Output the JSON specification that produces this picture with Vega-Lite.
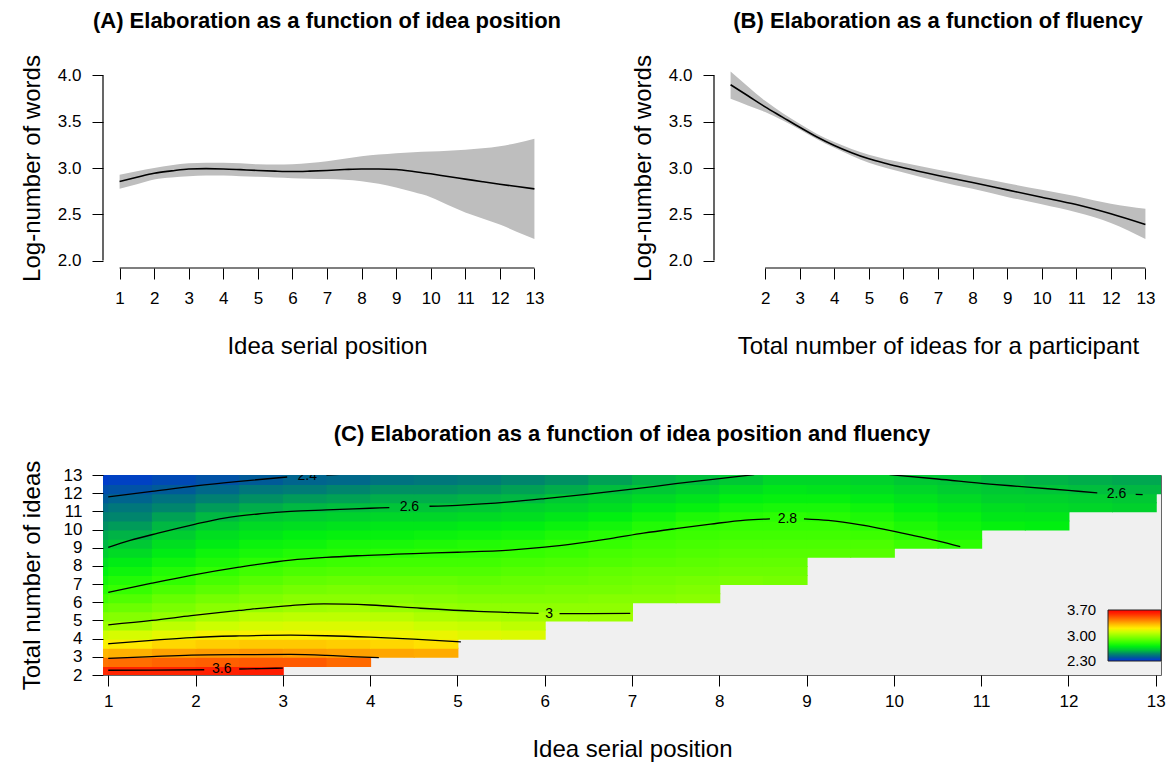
{
  "$schema": "https://vega.github.io/schema/vega-lite/v6.json",
  "background": "white",
  "padding": {"left": 19, "top": 9, "right": 5, "bottom": 5},
  "config": {
    "font": "Liberation Sans",
    "view": {"stroke": null},
    "title": {"fontSize": 22, "fontWeight": "bold", "color": "black", "font": "Liberation Sans", "anchor": "middle", "offset": 22},
    "axis": {"domain": false, "grid": false, "tickColor": "black", "tickSize": 11, "tickWidth": 1, "labelFontSize": 17, "labelColor": "black", "labelFont": "Liberation Sans", "labelPadding": 11, "labelFlush": false, "labelOverlap": false, "titleFontSize": 24, "titleFontWeight": "normal", "titleColor": "black", "titleFont": "Liberation Sans"}
  },
  "datasets": {
    "A": [
      {"x":1,"m":2.854,"lo":2.775,"hi":2.926},{"x":1.5,"m":2.9,"lo":2.825,"hi":2.966},{"x":2,"m":2.944,"lo":2.876,"hi":3.0},{"x":2.5,"m":2.969,"lo":2.897,"hi":3.03},{"x":3,"m":2.99,"lo":2.91,"hi":3.05},{"x":3.5,"m":2.993,"lo":2.92,"hi":3.058},{"x":4,"m":2.99,"lo":2.92,"hi":3.056},{"x":4.5,"m":2.982,"lo":2.912,"hi":3.05},{"x":5,"m":2.973,"lo":2.905,"hi":3.04},{"x":5.5,"m":2.966,"lo":2.897,"hi":3.038},{"x":6,"m":2.962,"lo":2.89,"hi":3.04},{"x":6.5,"m":2.966,"lo":2.885,"hi":3.055},{"x":7,"m":2.973,"lo":2.88,"hi":3.074},{"x":7.5,"m":2.983,"lo":2.872,"hi":3.1},{"x":8,"m":2.99,"lo":2.858,"hi":3.128},{"x":8.5,"m":2.99,"lo":2.83,"hi":3.145},{"x":9,"m":2.984,"lo":2.79,"hi":3.16},{"x":9.5,"m":2.963,"lo":2.74,"hi":3.17},{"x":10,"m":2.937,"lo":2.685,"hi":3.178},{"x":10.5,"m":2.908,"lo":2.6,"hi":3.187},{"x":11,"m":2.88,"lo":2.52,"hi":3.196},{"x":11.5,"m":2.852,"lo":2.455,"hi":3.212},{"x":12,"m":2.825,"lo":2.39,"hi":3.236},{"x":12.5,"m":2.8,"lo":2.31,"hi":3.27},{"x":13,"m":2.775,"lo":2.234,"hi":3.315}
    ],
    "B": [
      {"x":1,"m":3.899,"lo":3.748,"hi":4.043},{"x":1.5,"m":3.78,"lo":3.676,"hi":3.88},{"x":2,"m":3.66,"lo":3.605,"hi":3.725},{"x":2.5,"m":3.55,"lo":3.515,"hi":3.595},{"x":3,"m":3.44,"lo":3.416,"hi":3.478},{"x":3.5,"m":3.335,"lo":3.31,"hi":3.368},{"x":4,"m":3.243,"lo":3.218,"hi":3.28},{"x":4.5,"m":3.165,"lo":3.132,"hi":3.205},{"x":5,"m":3.099,"lo":3.056,"hi":3.142},{"x":5.5,"m":3.048,"lo":3.0,"hi":3.095},{"x":6,"m":3.002,"lo":2.951,"hi":3.056},{"x":7,"m":2.919,"lo":2.858,"hi":2.98},{"x":8,"m":2.843,"lo":2.775,"hi":2.908},{"x":9,"m":2.764,"lo":2.688,"hi":2.836},{"x":10,"m":2.685,"lo":2.609,"hi":2.764},{"x":11,"m":2.605,"lo":2.523,"hi":2.695},{"x":12,"m":2.505,"lo":2.407,"hi":2.613},{"x":13,"m":2.389,"lo":2.234,"hi":2.559}
    ],
    "heat": [
      {"x":0.5,"y":2,"v":3.6},{"x":1,"y":2,"v":3.61},{"x":1.5,"y":2,"v":3.61},{"x":2,"y":2,"v":3.62},{"x":2.5,"y":2,"v":3.63},
      {"x":0.5,"y":2.5,"v":3.45},{"x":1,"y":2.5,"v":3.46},{"x":1.5,"y":2.5,"v":3.48},{"x":2,"y":2.5,"v":3.49},{"x":2.5,"y":2.5,"v":3.5},{"x":3,"y":2.5,"v":3.5},{"x":3.5,"y":2.5,"v":3.47},
      {"x":0.5,"y":3,"v":3.32},{"x":1,"y":3,"v":3.33},{"x":1.5,"y":3,"v":3.36},{"x":2,"y":3,"v":3.37},{"x":2.5,"y":3,"v":3.38},{"x":3,"y":3,"v":3.37},{"x":3.5,"y":3,"v":3.36},{"x":4,"y":3,"v":3.35},{"x":4.5,"y":3,"v":3.34},
      {"x":0.5,"y":3.5,"v":3.19},{"x":1,"y":3.5,"v":3.21},{"x":1.5,"y":3.5,"v":3.25},{"x":2,"y":3.5,"v":3.27},{"x":2.5,"y":3.5,"v":3.28},{"x":3,"y":3.5,"v":3.28},{"x":3.5,"y":3.5,"v":3.27},{"x":4,"y":3.5,"v":3.25},{"x":4.5,"y":3.5,"v":3.23},
      {"x":0.5,"y":4,"v":3.1},{"x":1,"y":4,"v":3.12},{"x":1.5,"y":4,"v":3.15},{"x":2,"y":4,"v":3.18},{"x":2.5,"y":4,"v":3.19},{"x":3,"y":4,"v":3.19},{"x":3.5,"y":4,"v":3.19},{"x":4,"y":4,"v":3.17},{"x":4.5,"y":4,"v":3.16},{"x":5,"y":4,"v":3.14},{"x":5.5,"y":4,"v":3.13},
      {"x":0.5,"y":4.5,"v":3.0},{"x":1,"y":4.5,"v":3.02},{"x":1.5,"y":4.5,"v":3.07},{"x":2,"y":4.5,"v":3.1},{"x":2.5,"y":4.5,"v":3.12},{"x":3,"y":4.5,"v":3.13},{"x":3.5,"y":4.5,"v":3.13},{"x":4,"y":4.5,"v":3.12},{"x":4.5,"y":4.5,"v":3.1},{"x":5,"y":4.5,"v":3.09},{"x":5.5,"y":4.5,"v":3.07},
      {"x":0.5,"y":5,"v":2.95},{"x":1,"y":5,"v":2.96},{"x":1.5,"y":5,"v":2.99},{"x":2,"y":5,"v":3.03},{"x":2.5,"y":5,"v":3.06},{"x":3,"y":5,"v":3.07},{"x":3.5,"y":5,"v":3.07},{"x":4,"y":5,"v":3.06},{"x":4.5,"y":5,"v":3.04},{"x":5,"y":5,"v":3.03},{"x":5.5,"y":5,"v":3.02},{"x":6,"y":5,"v":3.01},{"x":6.5,"y":5,"v":3.01},
      {"x":0.5,"y":5.5,"v":2.89},{"x":1,"y":5.5,"v":2.91},{"x":1.5,"y":5.5,"v":2.94},{"x":2,"y":5.5,"v":2.97},{"x":2.5,"y":5.5,"v":2.99},{"x":3,"y":5.5,"v":3.01},{"x":3.5,"y":5.5,"v":3.02},{"x":4,"y":5.5,"v":3.0},{"x":4.5,"y":5.5,"v":2.99},{"x":5,"y":5.5,"v":2.98},{"x":5.5,"y":5.5,"v":2.98},{"x":6,"y":5.5,"v":2.98},{"x":6.5,"y":5.5,"v":2.98},
      {"x":0.5,"y":6,"v":2.83},{"x":1,"y":6,"v":2.86},{"x":1.5,"y":6,"v":2.9},{"x":2,"y":6,"v":2.93},{"x":2.5,"y":6,"v":2.95},{"x":3,"y":6,"v":2.97},{"x":3.5,"y":6,"v":2.97},{"x":4,"y":6,"v":2.97},{"x":4.5,"y":6,"v":2.96},{"x":5,"y":6,"v":2.95},{"x":5.5,"y":6,"v":2.95},{"x":6,"y":6,"v":2.95},{"x":6.5,"y":6,"v":2.96},{"x":7,"y":6,"v":2.96},{"x":7.5,"y":6,"v":2.97},
      {"x":0.5,"y":6.5,"v":2.78},{"x":1,"y":6.5,"v":2.81},{"x":1.5,"y":6.5,"v":2.85},{"x":2,"y":6.5,"v":2.88},{"x":2.5,"y":6.5,"v":2.91},{"x":3,"y":6.5,"v":2.93},{"x":3.5,"y":6.5,"v":2.94},{"x":4,"y":6.5,"v":2.93},{"x":4.5,"y":6.5,"v":2.93},{"x":5,"y":6.5,"v":2.92},{"x":5.5,"y":6.5,"v":2.92},{"x":6,"y":6.5,"v":2.93},{"x":6.5,"y":6.5,"v":2.93},{"x":7,"y":6.5,"v":2.94},{"x":7.5,"y":6.5,"v":2.95},
      {"x":0.5,"y":7,"v":2.74},{"x":1,"y":7,"v":2.77},{"x":1.5,"y":7,"v":2.8},{"x":2,"y":7,"v":2.84},{"x":2.5,"y":7,"v":2.87},{"x":3,"y":7,"v":2.89},{"x":3.5,"y":7,"v":2.9},{"x":4,"y":7,"v":2.9},{"x":4.5,"y":7,"v":2.9},{"x":5,"y":7,"v":2.89},{"x":5.5,"y":7,"v":2.9},{"x":6,"y":7,"v":2.9},{"x":6.5,"y":7,"v":2.91},{"x":7,"y":7,"v":2.92},{"x":7.5,"y":7,"v":2.93},{"x":8,"y":7,"v":2.94},{"x":8.5,"y":7,"v":2.93},
      {"x":0.5,"y":7.5,"v":2.7},{"x":1,"y":7.5,"v":2.73},{"x":1.5,"y":7.5,"v":2.77},{"x":2,"y":7.5,"v":2.8},{"x":2.5,"y":7.5,"v":2.83},{"x":3,"y":7.5,"v":2.85},{"x":3.5,"y":7.5,"v":2.86},{"x":4,"y":7.5,"v":2.86},{"x":4.5,"y":7.5,"v":2.86},{"x":5,"y":7.5,"v":2.86},{"x":5.5,"y":7.5,"v":2.87},{"x":6,"y":7.5,"v":2.88},{"x":6.5,"y":7.5,"v":2.89},{"x":7,"y":7.5,"v":2.9},{"x":7.5,"y":7.5,"v":2.9},{"x":8,"y":7.5,"v":2.91},{"x":8.5,"y":7.5,"v":2.91},
      {"x":0.5,"y":8,"v":2.66},{"x":1,"y":8,"v":2.69},{"x":1.5,"y":8,"v":2.73},{"x":2,"y":8,"v":2.76},{"x":2.5,"y":8,"v":2.79},{"x":3,"y":8,"v":2.81},{"x":3.5,"y":8,"v":2.82},{"x":4,"y":8,"v":2.83},{"x":4.5,"y":8,"v":2.83},{"x":5,"y":8,"v":2.83},{"x":5.5,"y":8,"v":2.84},{"x":6,"y":8,"v":2.85},{"x":6.5,"y":8,"v":2.86},{"x":7,"y":8,"v":2.87},{"x":7.5,"y":8,"v":2.88},{"x":8,"y":8,"v":2.89},{"x":8.5,"y":8,"v":2.89},
      {"x":0.5,"y":8.5,"v":2.62},{"x":1,"y":8.5,"v":2.65},{"x":1.5,"y":8.5,"v":2.69},{"x":2,"y":8.5,"v":2.73},{"x":2.5,"y":8.5,"v":2.75},{"x":3,"y":8.5,"v":2.77},{"x":3.5,"y":8.5,"v":2.78},{"x":4,"y":8.5,"v":2.79},{"x":4.5,"y":8.5,"v":2.8},{"x":5,"y":8.5,"v":2.8},{"x":5.5,"y":8.5,"v":2.81},{"x":6,"y":8.5,"v":2.82},{"x":6.5,"y":8.5,"v":2.84},{"x":7,"y":8.5,"v":2.85},{"x":7.5,"y":8.5,"v":2.86},{"x":8,"y":8.5,"v":2.87},{"x":8.5,"y":8.5,"v":2.87},{"x":9,"y":8.5,"v":2.87},{"x":9.5,"y":8.5,"v":2.87},
      {"x":0.5,"y":9,"v":2.58},{"x":1,"y":9,"v":2.61},{"x":1.5,"y":9,"v":2.66},{"x":2,"y":9,"v":2.69},{"x":2.5,"y":9,"v":2.72},{"x":3,"y":9,"v":2.73},{"x":3.5,"y":9,"v":2.75},{"x":4,"y":9,"v":2.75},{"x":4.5,"y":9,"v":2.76},{"x":5,"y":9,"v":2.77},{"x":5.5,"y":9,"v":2.78},{"x":6,"y":9,"v":2.8},{"x":6.5,"y":9,"v":2.81},{"x":7,"y":9,"v":2.83},{"x":7.5,"y":9,"v":2.84},{"x":8,"y":9,"v":2.85},{"x":8.5,"y":9,"v":2.85},{"x":9,"y":9,"v":2.85},{"x":9.5,"y":9,"v":2.85},{"x":10,"y":9,"v":2.82},{"x":10.5,"y":9,"v":2.79},
      {"x":0.5,"y":9.5,"v":2.55},{"x":1,"y":9.5,"v":2.57},{"x":1.5,"y":9.5,"v":2.62},{"x":2,"y":9.5,"v":2.66},{"x":2.5,"y":9.5,"v":2.68},{"x":3,"y":9.5,"v":2.7},{"x":3.5,"y":9.5,"v":2.71},{"x":4,"y":9.5,"v":2.71},{"x":4.5,"y":9.5,"v":2.72},{"x":5,"y":9.5,"v":2.73},{"x":5.5,"y":9.5,"v":2.74},{"x":6,"y":9.5,"v":2.76},{"x":6.5,"y":9.5,"v":2.78},{"x":7,"y":9.5,"v":2.81},{"x":7.5,"y":9.5,"v":2.82},{"x":8,"y":9.5,"v":2.83},{"x":8.5,"y":9.5,"v":2.83},{"x":9,"y":9.5,"v":2.83},{"x":9.5,"y":9.5,"v":2.82},{"x":10,"y":9.5,"v":2.79},{"x":10.5,"y":9.5,"v":2.76},
      {"x":0.5,"y":10,"v":2.51},{"x":1,"y":10,"v":2.53},{"x":1.5,"y":10,"v":2.58},{"x":2,"y":10,"v":2.62},{"x":2.5,"y":10,"v":2.65},{"x":3,"y":10,"v":2.66},{"x":3.5,"y":10,"v":2.67},{"x":4,"y":10,"v":2.68},{"x":4.5,"y":10,"v":2.68},{"x":5,"y":10,"v":2.69},{"x":5.5,"y":10,"v":2.7},{"x":6,"y":10,"v":2.72},{"x":6.5,"y":10,"v":2.74},{"x":7,"y":10,"v":2.77},{"x":7.5,"y":10,"v":2.8},{"x":8,"y":10,"v":2.81},{"x":8.5,"y":10,"v":2.81},{"x":9,"y":10,"v":2.81},{"x":9.5,"y":10,"v":2.79},{"x":10,"y":10,"v":2.76},{"x":10.5,"y":10,"v":2.73},{"x":11,"y":10,"v":2.71},{"x":11.5,"y":10,"v":2.7},
      {"x":0.5,"y":10.5,"v":2.48},{"x":1,"y":10.5,"v":2.49},{"x":1.5,"y":10.5,"v":2.54},{"x":2,"y":10.5,"v":2.58},{"x":2.5,"y":10.5,"v":2.61},{"x":3,"y":10.5,"v":2.62},{"x":3.5,"y":10.5,"v":2.63},{"x":4,"y":10.5,"v":2.64},{"x":4.5,"y":10.5,"v":2.64},{"x":5,"y":10.5,"v":2.65},{"x":5.5,"y":10.5,"v":2.66},{"x":6,"y":10.5,"v":2.68},{"x":6.5,"y":10.5,"v":2.7},{"x":7,"y":10.5,"v":2.73},{"x":7.5,"y":10.5,"v":2.76},{"x":8,"y":10.5,"v":2.78},{"x":8.5,"y":10.5,"v":2.79},{"x":9,"y":10.5,"v":2.78},{"x":9.5,"y":10.5,"v":2.76},{"x":10,"y":10.5,"v":2.73},{"x":10.5,"y":10.5,"v":2.71},{"x":11,"y":10.5,"v":2.68},{"x":11.5,"y":10.5,"v":2.68},
      {"x":0.5,"y":11,"v":2.44},{"x":1,"y":11,"v":2.46},{"x":1.5,"y":11,"v":2.49},{"x":2,"y":11,"v":2.53},{"x":2.5,"y":11,"v":2.56},{"x":3,"y":11,"v":2.58},{"x":3.5,"y":11,"v":2.59},{"x":4,"y":11,"v":2.6},{"x":4.5,"y":11,"v":2.6},{"x":5,"y":11,"v":2.61},{"x":5.5,"y":11,"v":2.63},{"x":6,"y":11,"v":2.64},{"x":6.5,"y":11,"v":2.66},{"x":7,"y":11,"v":2.69},{"x":7.5,"y":11,"v":2.71},{"x":8,"y":11,"v":2.74},{"x":8.5,"y":11,"v":2.75},{"x":9,"y":11,"v":2.75},{"x":9.5,"y":11,"v":2.73},{"x":10,"y":11,"v":2.7},{"x":10.5,"y":11,"v":2.68},{"x":11,"y":11,"v":2.66},{"x":11.5,"y":11,"v":2.65},{"x":12,"y":11,"v":2.64},{"x":12.5,"y":11,"v":2.63},
      {"x":0.5,"y":11.5,"v":2.4},{"x":1,"y":11.5,"v":2.42},{"x":1.5,"y":11.5,"v":2.45},{"x":2,"y":11.5,"v":2.48},{"x":2.5,"y":11.5,"v":2.51},{"x":3,"y":11.5,"v":2.53},{"x":3.5,"y":11.5,"v":2.54},{"x":4,"y":11.5,"v":2.56},{"x":4.5,"y":11.5,"v":2.56},{"x":5,"y":11.5,"v":2.57},{"x":5.5,"y":11.5,"v":2.58},{"x":6,"y":11.5,"v":2.61},{"x":6.5,"y":11.5,"v":2.63},{"x":7,"y":11.5,"v":2.65},{"x":7.5,"y":11.5,"v":2.67},{"x":8,"y":11.5,"v":2.7},{"x":8.5,"y":11.5,"v":2.71},{"x":9,"y":11.5,"v":2.71},{"x":9.5,"y":11.5,"v":2.69},{"x":10,"y":11.5,"v":2.67},{"x":10.5,"y":11.5,"v":2.65},{"x":11,"y":11.5,"v":2.63},{"x":11.5,"y":11.5,"v":2.63},{"x":12,"y":11.5,"v":2.62},{"x":12.5,"y":11.5,"v":2.61},
      {"x":0.5,"y":12,"v":2.37},{"x":1,"y":12,"v":2.38},{"x":1.5,"y":12,"v":2.4},{"x":2,"y":12,"v":2.43},{"x":2.5,"y":12,"v":2.46},{"x":3,"y":12,"v":2.47},{"x":3.5,"y":12,"v":2.49},{"x":4,"y":12,"v":2.51},{"x":4.5,"y":12,"v":2.51},{"x":5,"y":12,"v":2.52},{"x":5.5,"y":12,"v":2.54},{"x":6,"y":12,"v":2.56},{"x":6.5,"y":12,"v":2.59},{"x":7,"y":12,"v":2.61},{"x":7.5,"y":12,"v":2.63},{"x":8,"y":12,"v":2.66},{"x":8.5,"y":12,"v":2.68},{"x":9,"y":12,"v":2.67},{"x":9.5,"y":12,"v":2.66},{"x":10,"y":12,"v":2.64},{"x":10.5,"y":12,"v":2.62},{"x":11,"y":12,"v":2.61},{"x":11.5,"y":12,"v":2.6},{"x":12,"y":12,"v":2.59},{"x":12.5,"y":12,"v":2.58},{"x":13,"y":12,"v":2.58},
      {"x":0.5,"y":12.5,"v":2.33},{"x":1,"y":12.5,"v":2.34},{"x":1.5,"y":12.5,"v":2.36},{"x":2,"y":12.5,"v":2.38},{"x":2.5,"y":12.5,"v":2.4},{"x":3,"y":12.5,"v":2.42},{"x":3.5,"y":12.5,"v":2.43},{"x":4,"y":12.5,"v":2.45},{"x":4.5,"y":12.5,"v":2.46},{"x":5,"y":12.5,"v":2.47},{"x":5.5,"y":12.5,"v":2.49},{"x":6,"y":12.5,"v":2.51},{"x":6.5,"y":12.5,"v":2.54},{"x":7,"y":12.5,"v":2.57},{"x":7.5,"y":12.5,"v":2.59},{"x":8,"y":12.5,"v":2.61},{"x":8.5,"y":12.5,"v":2.64},{"x":9,"y":12.5,"v":2.64},{"x":9.5,"y":12.5,"v":2.63},{"x":10,"y":12.5,"v":2.61},{"x":10.5,"y":12.5,"v":2.6},{"x":11,"y":12.5,"v":2.58},{"x":11.5,"y":12.5,"v":2.57},{"x":12,"y":12.5,"v":2.56},{"x":12.5,"y":12.5,"v":2.55},{"x":13,"y":12.5,"v":2.55}
    ],
    "cont": [
      {"s":"24a","x":1,"y":11.8},{"s":"24a","x":1.5,"y":12.1},{"s":"24a","x":2,"y":12.4},{"s":"24a","x":2.5,"y":12.65},{"s":"24a","x":3.05,"y":12.89},
      {"s":"24b","x":3.5,"y":12.99},{"s":"24b","x":3.7,"y":13.05},
      {"s":"26a","x":1,"y":9.02},{"s":"26a","x":1.25,"y":9.4},{"s":"26a","x":1.57,"y":9.8},{"s":"26a","x":2,"y":10.3},{"s":"26a","x":2.33,"y":10.63},{"s":"26a","x":2.75,"y":10.87},{"s":"26a","x":3.09,"y":11.0},{"s":"26a","x":3.5,"y":11.08},{"s":"26a","x":4.0,"y":11.17},{"s":"26a","x":4.22,"y":11.21},
      {"s":"26b","x":4.68,"y":11.28},{"s":"26b","x":5.0,"y":11.33},{"s":"26b","x":5.6,"y":11.52},{"s":"26b","x":6.0,"y":11.7},{"s":"26b","x":6.5,"y":11.95},{"s":"26b","x":7.0,"y":12.22},{"s":"26b","x":7.5,"y":12.52},{"s":"26b","x":8.0,"y":12.8},{"s":"26b","x":8.4,"y":13.02},
      {"s":"26c","x":9.95,"y":13.02},{"s":"26c","x":10.5,"y":12.78},{"s":"26c","x":11.1,"y":12.5},{"s":"26c","x":11.5,"y":12.35},{"s":"26c","x":12.0,"y":12.15},{"s":"26c","x":12.33,"y":12.02},
      {"s":"26d","x":12.77,"y":11.93},{"s":"26d","x":12.85,"y":11.92},
      {"s":"28a","x":1,"y":6.54},{"s":"28a","x":1.5,"y":7.05},{"s":"28a","x":1.95,"y":7.48},{"s":"28a","x":2.5,"y":7.93},{"s":"28a","x":3.09,"y":8.32},{"s":"28a","x":3.5,"y":8.47},{"s":"28a","x":3.85,"y":8.56},{"s":"28a","x":4.5,"y":8.68},{"s":"28a","x":5.0,"y":8.75},{"s":"28a","x":5.6,"y":8.87},{"s":"28a","x":6.0,"y":9.03},{"s":"28a","x":6.37,"y":9.24},{"s":"28a","x":6.75,"y":9.5},{"s":"28a","x":7.13,"y":9.8},{"s":"28a","x":7.5,"y":10.05},{"s":"28a","x":7.9,"y":10.3},{"s":"28a","x":8.3,"y":10.52},{"s":"28a","x":8.58,"y":10.59},
      {"s":"28b","x":8.97,"y":10.59},{"s":"28b","x":9.25,"y":10.5},{"s":"28b","x":9.62,"y":10.26},{"s":"28b","x":10.19,"y":9.71},{"s":"28b","x":10.5,"y":9.38},{"s":"28b","x":10.76,"y":9.06},
      {"s":"30a","x":1,"y":4.76},{"s":"30a","x":1.5,"y":5.0},{"s":"30a","x":1.95,"y":5.26},{"s":"30a","x":2.5,"y":5.55},{"s":"30a","x":3.09,"y":5.82},{"s":"30a","x":3.47,"y":5.91},{"s":"30a","x":4.0,"y":5.85},{"s":"30a","x":4.58,"y":5.67},{"s":"30a","x":5.23,"y":5.5},{"s":"30a","x":5.93,"y":5.39},
      {"s":"30b","x":6.17,"y":5.38},{"s":"30b","x":6.5,"y":5.38},{"s":"30b","x":6.98,"y":5.39},
      {"s":"32","x":1,"y":3.72},{"s":"32","x":1.5,"y":3.9},{"s":"32","x":1.95,"y":4.06},{"s":"32","x":2.5,"y":4.15},{"s":"32","x":3.09,"y":4.19},{"s":"32","x":3.5,"y":4.16},{"s":"32","x":4.0,"y":4.08},{"s":"32","x":4.5,"y":3.97},{"s":"32","x":5.04,"y":3.82},
      {"s":"34","x":1,"y":2.91},{"s":"34","x":1.5,"y":3.01},{"s":"34","x":1.95,"y":3.09},{"s":"34","x":2.5,"y":3.12},{"s":"34","x":3.09,"y":3.13},{"s":"34","x":3.5,"y":3.08},{"s":"34","x":3.85,"y":3.0},{"s":"34","x":4.1,"y":2.96},
      {"s":"36a","x":1,"y":2.26},{"s":"36a","x":1.5,"y":2.27},{"s":"36a","x":2.1,"y":2.29},
      {"s":"36b","x":2.5,"y":2.33},{"s":"36b","x":2.75,"y":2.35},{"s":"36b","x":3.0,"y":2.38}
    ],
    "clab": [
      {"t":"2.4","x":3.28,"y":12.93},{"t":"2.6","x":4.45,"y":11.25},{"t":"2.6","x":12.55,"y":11.95},{"t":"2.8","x":8.78,"y":10.58},{"t":"3","x":6.05,"y":5.38},{"t":"3.6","x":2.3,"y":2.31}
    ]
  },
  "spacing": 407,
  "bounds": "flush",
  "vconcat": [
    {
      "spacing": 163,
      "bounds": "flush",
      "hconcat": [
        {
          "width": 448, "height": 200,
          "title": {"text": "(A) Elaboration as a function of idea position"},
          "layer": [
            {"data": {"name": "A"}, "mark": {"type": "area", "color": "#bebebe", "interpolate": "monotone"},
             "encoding": {
               "x": {"field": "x", "type": "quantitative", "scale": {"domain": [0.52, 13.48], "nice": false, "zero": false},
                     "axis": {"values": [1,2,3,4,5,6,7,8,9,10,11,12,13], "tickCount": 40, "format": "d", "title": "Idea serial position", "labelPadding": 11, "titlePadding": 28, "labelOverlap": false}},
               "y": {"field": "lo", "type": "quantitative", "scale": {"domain": [1.92, 4.08], "nice": false, "zero": false},
                     "axis": {"values": [2,2.5,3,3.5,4], "tickCount": 40, "format": ".1f", "title": "Log-number of words", "titlePadding": 13, "labelOverlap": false}},
               "y2": {"field": "hi"}}},
            {"data": {"name": "A"}, "mark": {"type": "line", "color": "black", "strokeWidth": 1.6, "interpolate": "monotone"},
             "encoding": {"x": {"field": "x", "type": "quantitative"}, "y": {"field": "m", "type": "quantitative"}}},
            {"data": {"values": [{}]}, "mark": {"type": "rule", "color": "black", "strokeWidth": 1.2},
             "encoding": {"x": {"datum": 1}, "x2": {"datum": 13}, "y": {"datum": 1.92}}},
            {"data": {"values": [{}]}, "mark": {"type": "rule", "color": "black", "strokeWidth": 1.2},
             "encoding": {"x": {"datum": 0.52}, "y": {"datum": 2}, "y2": {"datum": 4}}}
          ]
        },
        {
          "width": 448, "height": 200,
          "title": {"text": "(B) Elaboration as a function of fluency"},
          "layer": [
            {"data": {"name": "B"}, "mark": {"type": "area", "color": "#bebebe", "interpolate": "monotone"},
             "encoding": {
               "x": {"field": "x", "type": "quantitative", "scale": {"domain": [0.52, 13.48], "nice": false, "zero": false},
                     "axis": {"values": [2,3,4,5,6,7,8,9,10,11,12,13], "tickCount": 40, "format": "d", "title": "Total number of ideas for a participant", "labelPadding": 11, "titlePadding": 28, "labelOverlap": false}},
               "y": {"field": "lo", "type": "quantitative", "scale": {"domain": [1.92, 4.08], "nice": false, "zero": false},
                     "axis": {"values": [2,2.5,3,3.5,4], "tickCount": 40, "format": ".1f", "title": "Log-number of words", "titlePadding": 13, "labelOverlap": false}},
               "y2": {"field": "hi"}}},
            {"data": {"name": "B"}, "mark": {"type": "line", "color": "black", "strokeWidth": 1.6, "interpolate": "monotone"},
             "encoding": {"x": {"field": "x", "type": "quantitative"}, "y": {"field": "m", "type": "quantitative"}}},
            {"data": {"values": [{}]}, "mark": {"type": "rule", "color": "black", "strokeWidth": 1.2},
             "encoding": {"x": {"datum": 2}, "x2": {"datum": 13}, "y": {"datum": 1.92}}},
            {"data": {"values": [{}]}, "mark": {"type": "rule", "color": "black", "strokeWidth": 1.2},
             "encoding": {"x": {"datum": 0.52}, "y": {"datum": 2}, "y2": {"datum": 4}}}
          ]
        }
      ]
    },
    {
      "width": 1058, "height": 200,
      "view": {"fill": "#f0f0f0", "stroke": "#666666", "strokeWidth": 1},
      "title": {"text": "(C) Elaboration as a function of idea position and fluency", "offset": 14},
      "layer": [
        {"data": {"name": "heat"}, "mark": {"type": "rect", "clip": true, "binSpacing": -1},
         "encoding": {
           "x": {"field": "x", "type": "quantitative", "bin": {"binned": true, "step": 0.5}, "scale": {"domain": [0.94, 13.06], "nice": false, "zero": false},
                 "axis": {"values": [1,2,3,4,5,6,7,8,9,10,11,12,13], "tickCount": 40, "format": "d", "title": "Idea serial position", "labelPadding": 7, "titlePadding": 28, "labelOverlap": false}},
           "y": {"field": "y", "type": "quantitative", "bin": {"binned": true, "step": 0.5}, "scale": {"domain": [2, 13], "nice": false, "zero": false},
                 "axis": {"values": [2,3,4,5,6,7,8,9,10,11,12,13], "tickCount": 40, "format": "d", "title": "Total number of ideas", "labelPadding": 10, "titlePadding": 19, "labelOverlap": false}},
           "color": {"field": "v", "type": "quantitative",
                     "scale": {"domain": [2.2995,2.4,2.5,2.6,2.7,2.8,2.9,3.0,3.1,3.2,3.3,3.4,3.5,3.6,3.7005],
                               "range": ["#0030e0","#005a98","#008a68","#00c438","#00f010","#30ff00","#66ff00","#99ff00","#ccff00","#ffee00","#ffc000","#ff8c00","#ff5a00","#ff2800","#ff0000"],
                               "interpolate": "rgb"},
                     "legend": {"type": "gradient", "orient": "none", "legendX": 1005, "legendY": 542, "direction": "vertical", "gradientLength": 51, "gradientThickness": 53,
                                "title": null, "values": [2.3, 3.0, 3.7], "format": ".2f", "labelAlign": "right", "labelBaseline": "middle", "labelOffset": -94,
                                "labelFontSize": 15, "labelColor": "black", "gradientStrokeColor": "#222222", "gradientStrokeWidth": 1, "padding": 0}}
         }},
        {"data": {"name": "cont"}, "mark": {"type": "line", "color": "black", "strokeWidth": 1.3, "interpolate": "monotone", "clip": true},
         "encoding": {"x": {"field": "x", "type": "quantitative"}, "y": {"field": "y", "type": "quantitative"}, "detail": {"field": "s", "type": "nominal"}}},
        {"data": {"name": "clab"}, "mark": {"type": "text", "fontSize": 14, "color": "black", "align": "center", "baseline": "middle", "clip": true},
         "encoding": {"x": {"field": "x", "type": "quantitative"}, "y": {"field": "y", "type": "quantitative"}, "text": {"field": "t", "type": "nominal"}}}
      ]
    }
  ]
}
